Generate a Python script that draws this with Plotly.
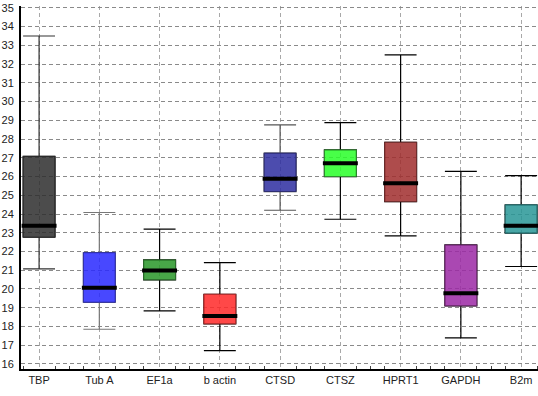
import plotly.graph_objects as go

genes = ["TBP", "Tub A", "EF1a", "b actin", "CTSD", "CTSZ", "HPRT1", "GAPDH", "B2m"]
lower_whisker = [21.07, 17.85, 18.83, 16.71, 24.20, 23.72, 22.83, 17.39, 21.20]
q1_values = [22.76, 19.29, 20.49, 18.14, 25.20, 26.00, 24.66, 19.10, 22.98]
median_values = [23.38, 20.07, 20.98, 18.56, 25.88, 26.71, 25.64, 19.77, 23.37]
q3_values = [27.08, 21.94, 21.55, 19.72, 27.25, 27.42, 27.83, 22.35, 24.49]
upper_whisker = [33.50, 24.08, 23.19, 21.41, 28.76, 28.88, 32.49, 26.28, 26.05]

fill_colors = ["rgba(45,45,45,0.85)", "rgba(40,40,255,0.85)", "rgba(40,150,40,0.85)",
               "rgba(255,40,40,0.85)", "rgba(45,45,160,0.85)", "rgba(40,255,40,0.85)",
               "rgba(160,45,45,0.85)", "rgba(155,40,165,0.85)", "rgba(40,150,150,0.85)"]
edge_colors = ["#2a2a2a", "#3030a0", "#2f6f2f", "#b03030", "#2f2f70", "#2f8f2f",
               "#703030", "#703070", "#2f7070"]
whisker_colors = ["#333333", "#777777", "#000000", "#000000", "#555555", "#000000",
                  "#000000", "#000000", "#000000"]
y_ticks = list(range(16, 36))

box_width = 0.53
median_width = 0.58
fig = go.Figure()
for i, g in enumerate(genes):
    # whiskers
    fig.add_trace(go.Box(
        x=[i], q1=[q1_values[i]], median=[median_values[i]], q3=[q3_values[i]],
        lowerfence=[lower_whisker[i]], upperfence=[upper_whisker[i]],
        width=box_width, whiskerwidth=1, line=dict(color=whisker_colors[i], width=1.2),
        fillcolor="rgba(0,0,0,0)", showlegend=False, hoverinfo="skip", name=g))
for i, g in enumerate(genes):
    # filled box
    fig.add_trace(go.Box(
        x=[i], q1=[q1_values[i]], median=[median_values[i]], q3=[q3_values[i]],
        lowerfence=[q1_values[i]], upperfence=[q3_values[i]],
        width=box_width, whiskerwidth=0, line=dict(color=edge_colors[i], width=1),
        fillcolor=fill_colors[i], showlegend=False, name=g))
    # thick median
    fig.add_trace(go.Box(
        x=[i], q1=[median_values[i]], median=[median_values[i]], q3=[median_values[i]],
        lowerfence=[median_values[i]], upperfence=[median_values[i]],
        width=median_width, whiskerwidth=0, line=dict(color="#000000", width=4),
        fillcolor="rgba(0,0,0,0)", showlegend=False, hoverinfo="skip", name=g))

minor_x = []
for i in range(len(genes)):
    minor_x += [i - box_width / 2, i + box_width / 2]
    if i < len(genes) - 1:
        minor_x.append(i + 0.5)

fig.update_layout(
    width=538, height=396,
    margin=dict(l=21, r=0, t=6, b=27),
    paper_bgcolor="white", plot_bgcolor="white",
    boxmode="overlay",
    font=dict(family="Liberation Sans, Arial, sans-serif", size=11, color="#222"),
    showlegend=False,
)
fig.update_xaxes(
    range=[-0.30, 8.28], tickmode="array", tickvals=list(range(len(genes))), ticktext=genes,
    showline=True, linecolor="black", linewidth=2,
    showgrid=True, gridcolor="#a8a8a8", griddash="4px,3px", gridwidth=1,
    ticks="", zeroline=False,
    minor=dict(tickmode="array", tickvals=minor_x, ticks="inside", ticklen=3,
               tickcolor="#444", showgrid=False),
)
fig.update_yaxes(
    range=[15.73, 35.1], tickmode="array", tickvals=y_ticks,
    showline=True, linecolor="black", linewidth=2,
    showgrid=True, gridcolor="#8a8a8a", griddash="4px,3px", gridwidth=1,
    ticks="", ticklabelstandoff=3, zeroline=False,
)
fig.write_html("out.html")
